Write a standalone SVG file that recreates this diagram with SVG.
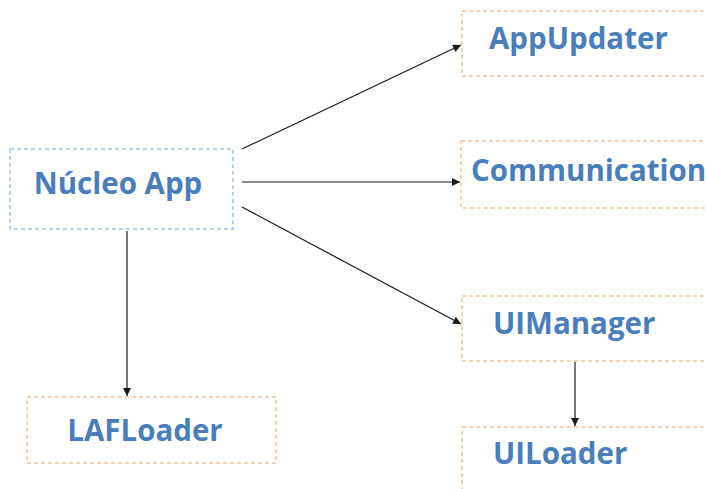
<svg xmlns="http://www.w3.org/2000/svg" width="706" height="489" viewBox="0 0 706 489">
  <style>
    .box-blue { fill: #ffffff; stroke: #9dc3e6; stroke-width: 1.5; stroke-dasharray: 4 3; }
    .box-orange { fill: #ffffff; stroke: #f8c39c; stroke-width: 1.5; stroke-dasharray: 4 3; }
    .label { font-family: "Open Sans", "Liberation Sans", sans-serif; font-weight: bold; font-size: 29.5px; fill: #4a7ebb; }
    .edge { stroke: #1a1a1a; stroke-width: 1.2; fill: none; marker-end: url(#arrow); }
  </style>
  <defs>
    <marker id="arrow" viewBox="0 0 10 10" refX="10" refY="5" markerWidth="8" markerHeight="8" markerUnits="userSpaceOnUse" orient="auto">
      <path d="M0,0 L10,5 L0,10 z" fill="#1a1a1a"/>
    </marker>
  </defs>
  <rect width="706" height="489" fill="#ffffff"/>

  <g id="connectors">
    <line class="edge" x1="242" y1="149" x2="461" y2="45"/>
    <line class="edge" x1="242" y1="182" x2="460" y2="182"/>
    <line class="edge" x1="242" y1="207" x2="461" y2="324"/>
    <line class="edge" x1="127" y1="231" x2="127" y2="396"/>
    <line class="edge" x1="575" y1="362" x2="575" y2="426"/>
  </g>

  <g id="nucleo-app">
    <rect class="box-blue" x="10" y="149" width="223" height="80"/>
    <text class="label" x="118" y="194" text-anchor="middle">Núcleo App</text>
  </g>
  <g id="app-updater">
    <rect class="box-orange" x="462" y="11" width="260" height="65"/>
    <text class="label" x="489" y="49">AppUpdater</text>
  </g>
  <g id="communication">
    <rect class="box-orange" x="461" y="141" width="260" height="67"/>
    <text class="label" x="471" y="181">Communication</text>
  </g>
  <g id="ui-manager">
    <rect class="box-orange" x="462" y="296" width="260" height="65"/>
    <text class="label" x="493" y="334">UIManager</text>
  </g>
  <g id="ui-loader">
    <rect class="box-orange" x="462" y="427" width="260" height="80"/>
    <text class="label" x="493" y="464">UILoader</text>
  </g>
  <g id="laf-loader">
    <rect class="box-orange" x="27" y="397" width="249" height="66"/>
    <text class="label" x="145" y="441" text-anchor="middle">LAFLoader</text>
  </g>
</svg>
